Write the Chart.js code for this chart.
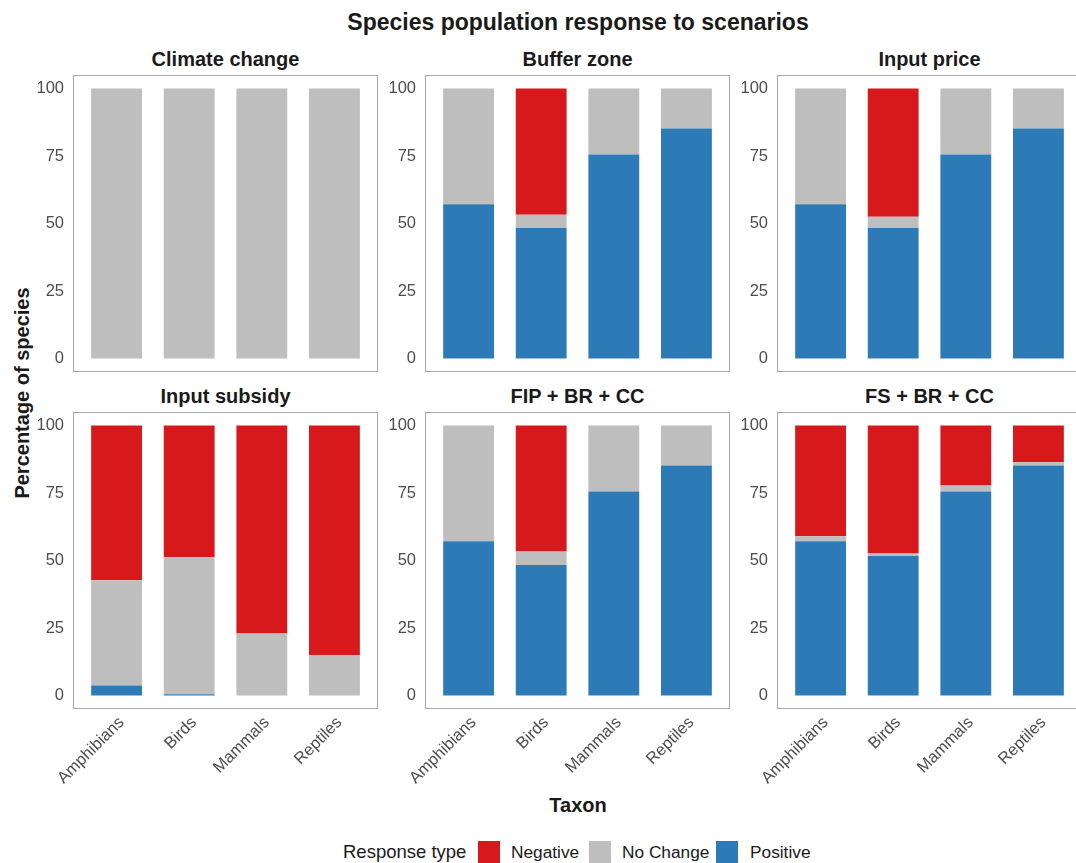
<!DOCTYPE html>
<html>
<head>
<meta charset="utf-8">
<script src="https://cdn.jsdelivr.net/npm/chart.js@4.4.1/dist/chart.umd.min.js"></script>
<style>
  html, body { margin: 0; padding: 0; background: #fff; overflow: hidden; }
  #wrap { position: relative; width: 1076px; height: 863px; font-family: 'Liberation Sans', Arial, sans-serif; }
  canvas { position: absolute; }
  .lbl { position: absolute; white-space: nowrap; color: #1a1a1a; }
  .ptitle { position: absolute; width: 305px; text-align: center; font-weight: bold; font-size: 20px; color: #1a1a1a; }
  .key { position: absolute; width: 22px; height: 22px; top: 841px; }
  .item { position: absolute; top: 852px; font-size: 17.3px; transform: translateY(-50%); white-space: nowrap; color: #1a1a1a; }
</style>
</head>
<body>
<div id="wrap">
  <div class="lbl" style="left:578px;top:22px;font-weight:bold;font-size:23px;transform:translate(-50%,-50%);">Species population response to scenarios</div>
  <div class="lbl" style="left:22px;top:393px;font-weight:bold;font-size:20px;transform:translate(-50%,-50%) rotate(-90deg);">Percentage of species</div>
  <div class="lbl" style="left:578px;top:805px;font-weight:bold;font-size:20px;transform:translate(-50%,-50%);">Taxon</div>

  <div class="lbl" style="left:343px;top:852px;font-size:18.5px;transform:translateY(-50%);">Response type</div>
  <div class="key" style="left:478px;background:#d7191c;"></div>
  <div class="item" style="left:511px;">Negative</div>
  <div class="key" style="left:589px;background:#bebebe;"></div>
  <div class="item" style="left:622px;">No Change</div>
  <div class="key" style="left:716px;background:#2c7bb6;"></div>
  <div class="item" style="left:750px;">Positive</div>
</div>
<script>
const taxa = ['Amphibians', 'Birds', 'Mammals', 'Reptiles'];
const scenarios = ['Climate change', 'Buffer zone', 'Input price', 'Input subsidy', 'FIP + BR + CC', 'FS + BR + CC'];
const yTicks = [0, 25, 50, 75, 100];

// percentage of species per taxon, one row per scenario
const positive = [
  [0, 0, 0, 0],
  [57.1, 48.3, 75.6, 85.2],
  [57.1, 48.3, 75.6, 85.2],
  [3.7, 0.5, 0, 0],
  [57.1, 48.3, 75.6, 85.2],
  [57.1, 51.7, 75.6, 85.2],
];
const noChange = [
  [100, 100, 100, 100],
  [42.9, 4.9, 24.4, 14.8],
  [42.9, 4.2, 24.4, 14.8],
  [39.0, 50.7, 23.0, 15.0],
  [42.9, 5.0, 24.4, 14.8],
  [1.9, 0.9, 2.2, 1.2],
];
const negative = [
  [0, 0, 0, 0],
  [0, 46.8, 0, 0],
  [0, 47.5, 0, 0],
  [57.3, 48.8, 77.0, 85.0],
  [0, 46.7, 0, 0],
  [41.0, 47.4, 22.2, 13.6],
];

const COLORS = { neg: '#d7191c', none: '#bebebe', pos: '#2c7bb6' };
const TICK = '#4d4d4d';
Chart.defaults.font.family = "'Liberation Sans', Arial, sans-serif";

const frameLeft = [73, 425, 777];
const frameTop = [75, 412];
const FW = 305, FH = 297, YAXIS_W = 38, XAXIS_H = 110;

const framePlugin = {
  id: 'frame',
  afterDraw(chart) {
    const a = chart.chartArea, c = chart.ctx;
    c.save();
    c.strokeStyle = '#a6a6a6'; c.lineWidth = 1;
    c.strokeRect(Math.round(a.left) + 0.5, Math.round(a.top) + 0.5, Math.round(a.width) - 1, Math.round(a.height) - 1);
    c.restore();
  }
};

function toXY(arr) { return arr.map((v, i) => ({ x: i + 1, y: v })); }
function noPad(s) { s.paddingTop = 0; s.paddingBottom = 0; s.paddingLeft = 0; s.paddingRight = 0; }

function panel(idx) {
  const row = Math.floor(idx / 3), col = idx % 3;
  const showX = row === 1;
  const wrap = document.getElementById('wrap');

  const t = document.createElement('div');
  t.className = 'ptitle';
  t.style.left = frameLeft[col] + 'px';
  t.style.top = (frameTop[row] - 27) + 'px';
  t.textContent = scenarios[idx];
  wrap.appendChild(t);

  const cv = document.createElement('canvas');
  const w = YAXIS_W + FW, h = FH + (showX ? XAXIS_H : 0);
  cv.width = w; cv.height = h;
  cv.style.left = (frameLeft[col] - YAXIS_W) + 'px';
  cv.style.top = frameTop[row] + 'px';
  cv.style.width = w + 'px'; cv.style.height = h + 'px';
  wrap.appendChild(cv);

  new Chart(cv, {
    type: 'bar',
    data: {
      datasets: [
        { label: 'Positive', data: toXY(positive[idx]), backgroundColor: COLORS.pos },
        { label: 'No Change', data: toXY(noChange[idx]), backgroundColor: COLORS.none },
        { label: 'Negative', data: toXY(negative[idx]), backgroundColor: COLORS.neg },
      ]
    },
    options: {
      responsive: false, animation: false, devicePixelRatio: 1,
      barPercentage: 0.7, categoryPercentage: 1,
      layout: { padding: 0 },
      plugins: { legend: { display: false }, tooltip: { enabled: false } },
      scales: {
        x: {
          type: 'linear', stacked: true, offset: false, min: 0.4, max: 4.6, display: showX,
          grid: { display: false, drawTicks: false }, border: { display: false },
          afterBuildTicks: s => { s.ticks = taxa.map((_, i) => ({ value: i + 1 })); },
          afterFit: s => { s.height = showX ? XAXIS_H : 0; noPad(s); },
          ticks: {
            color: TICK, font: { size: 16.5 }, minRotation: 45, maxRotation: 45, padding: 4, labelOffset: 5,
            callback: v => taxa[v - 1] || ''
          }
        },
        y: {
          stacked: true, min: -5, max: 105,
          grid: { display: false, drawTicks: false }, border: { display: false },
          afterBuildTicks: s => { s.ticks = yTicks.map(v => ({ value: v })); },
          afterFit: s => { s.width = YAXIS_W; noPad(s); },
          ticks: { color: TICK, font: { size: 16.5 }, padding: 9 }
        }
      }
    },
    plugins: [framePlugin]
  });
}

scenarios.forEach((_, i) => panel(i));
</script>
</body>
</html>
